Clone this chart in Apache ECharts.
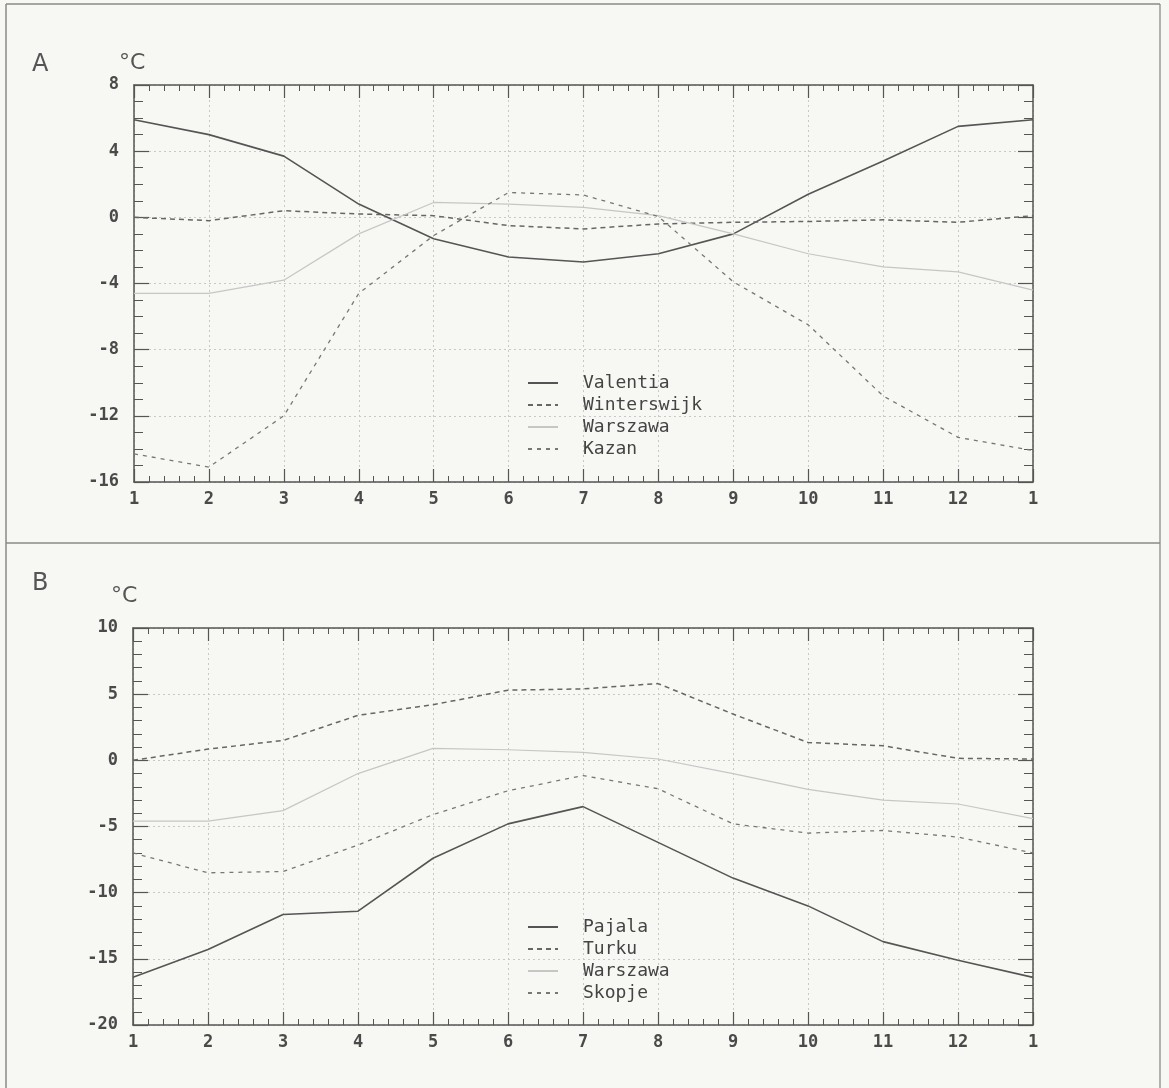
<!DOCTYPE html>
<html>
<head>
<meta charset="utf-8">
<script src="https://cdn.jsdelivr.net/npm/echarts@6/dist/echarts.min.js"></script>
<style>
html,body{margin:0;padding:0;background:#f7f7f3;}
#c{width:1169px;height:1088px;}
</style>
</head>
<body>
<div id="c"></div>
<script>
// Month positions (x) and their tick labels
const months = [1,2,3,4,5,6,7,8,9,10,11,12,13];
const tickLabels = ['1','2','3','4','5','6','7','8','9','10','11','12','1'];

// Panel A (°C)
const valentia    = [5.9, 5.0, 3.7, 0.8, -1.3, -2.4, -2.7, -2.2, -1.0, 1.4, 3.4, 5.5, 5.9];
const winterswijk = [0.0, -0.2, 0.4, 0.2, 0.1, -0.5, -0.7, -0.4, -0.3, -0.25, -0.15, -0.3, 0.1];
const warszawa    = [-4.6, -4.6, -3.8, -1.0, 0.9, 0.8, 0.6, 0.1, -1.0, -2.2, -3.0, -3.3, -4.4];
const kazan       = [-14.3, -15.1, -12.0, -4.6, -1.1, 1.5, 1.35, 0.05, -3.9, -6.5, -10.8, -13.3, -14.1];

// Panel B (°C)
const pajala = [-16.4, -14.3, -11.65, -11.4, -7.4, -4.8, -3.5, -6.2, -8.9, -11.0, -13.7, -15.1, -16.4];
const turku  = [0.0, 0.85, 1.5, 3.4, 4.2, 5.3, 5.4, 5.8, 3.5, 1.35, 1.1, 0.15, 0.1];
const skopje = [-7.0, -8.5, -8.4, -6.4, -4.1, -2.3, -1.15, -2.15, -4.8, -5.5, -5.3, -5.8, -7.0];

const legendA = ['Valentia','Winterswijk','Warszawa','Kazan'];
const legendB = ['Pajala','Turku','Warszawa','Skopje'];

const pts = arr => months.map((m,i)=>[m, arr[i]]);
const FONT = 'DejaVu Sans Mono';
const AX = '#555';

function xAx(grid, pos, labels){
  return {
    type:'value', gridIndex:grid, position:pos, min:1, max:13, interval:1,
    axisLine:{show:true, onZero:false, lineStyle:{color:AX, width:1.5}},
    axisTick:{show:true, inside:true, length:13, lineStyle:{color:AX, width:1.2}},
    minorTick:{show:true, splitNumber:5, length:6, lineStyle:{color:AX, width:1}},
    axisLabel:{show:labels, margin:9, color:'#4a4a4a', fontFamily:FONT, fontSize:17, fontWeight:'bold',
      formatter:v=>tickLabels[Math.round(v)-1]},
    splitLine:{show:labels, lineStyle:{color:'#c8c8c8', width:1, type:[2,3]}}
  };
}
function yAx(grid, pos, labels, min, max, interval, minorN){
  return {
    type:'value', gridIndex:grid, position:pos, min:min, max:max, interval:interval,
    axisLine:{show:true, onZero:false, lineStyle:{color:AX, width:1.5}},
    axisTick:{show:true, inside:true, length:15, lineStyle:{color:AX, width:1.2}},
    minorTick:{show:true, splitNumber:minorN, length:9, lineStyle:{color:AX, width:1}},
    axisLabel:{show:labels, margin:15, color:'#4a4a4a', fontFamily:FONT, fontSize:17, fontWeight:'bold'},
    splitLine:{show:labels, lineStyle:{color:'#c8c8c8', width:1, type:[2,3]}}
  };
}
function ser(name, data, xi, yi, color, width, type){
  return {name:name, type:'line', data:pts(data), xAxisIndex:xi, yAxisIndex:yi,
    symbol:'none', smooth:false, animation:false,
    lineStyle:{color:color, width:width, type:type}, itemStyle:{color:color}};
}

const legendCommon = {orient:'vertical', left:522, itemWidth:30, itemHeight:10, itemGap:4,
  itemStyle:{opacity:0},
  textStyle:{fontFamily:FONT, fontSize:18, color:'#444', padding:[0,0,0,20]}};

const chart = echarts.init(document.getElementById('c'));
chart.setOption({
  backgroundColor:'#f7f7f3',
  animation:false,
  grid:[
    {left:134, top:85, width:899, height:397},
    {left:133, top:628, width:900, height:397}
  ],
  xAxis:[ xAx(0,'bottom',true), xAx(0,'top',false), xAx(1,'bottom',true), xAx(1,'top',false) ],
  yAxis:[
    yAx(0,'left',true,-16,8,4,4), yAx(0,'right',false,-16,8,4,4),
    yAx(1,'left',true,-20,10,5,5), yAx(1,'right',false,-20,10,5,5)
  ],
  legend:[
    Object.assign({data:legendA, top:369}, legendCommon),
    Object.assign({data:legendB, top:913}, legendCommon)
  ],
  series:[
    ser('Valentia', valentia, 0, 0, '#555', 1.6, 'solid'),
    ser('Winterswijk', winterswijk, 0, 0, '#666', 1.5, [5,4]),
    ser('Warszawa', warszawa, 0, 0, '#c6c6c6', 1.2, 'solid'),
    ser('Kazan', kazan, 0, 0, '#777', 1.3, [4,5]),
    ser('Pajala', pajala, 2, 2, '#555', 1.6, 'solid'),
    ser('Turku', turku, 2, 2, '#666', 1.5, [5,4]),
    ser('Warszawa', warszawa, 2, 2, '#c6c6c6', 1.2, 'solid'),
    ser('Skopje', skopje, 2, 2, '#777', 1.3, [4,5])
  ],
  graphic:[
    {type:'line', shape:{x1:6,y1:4,x2:6,y2:1088}, style:{stroke:'#8a8a8a', lineWidth:1.5}},
    {type:'line', shape:{x1:1160,y1:4,x2:1160,y2:1088}, style:{stroke:'#9a9a9a', lineWidth:1.5}},
    {type:'line', shape:{x1:6,y1:4,x2:1160,y2:4}, style:{stroke:'#8a8a8a', lineWidth:1.5}},
    {type:'line', shape:{x1:6,y1:543,x2:1160,y2:543}, style:{stroke:'#8a8a8a', lineWidth:1.5}},
    {type:'text', left:32, top:53, style:{text:'A', font:'24px "DejaVu Sans"', fill:'#555'}},
    {type:'text', left:119, top:52, style:{text:'°C', font:'22px "DejaVu Sans"', fill:'#555'}},
    {type:'text', left:32, top:572, style:{text:'B', font:'24px "DejaVu Sans"', fill:'#555'}},
    {type:'text', left:111, top:585, style:{text:'°C', font:'22px "DejaVu Sans"', fill:'#555'}}
  ]
});
</script>
</body>
</html>
